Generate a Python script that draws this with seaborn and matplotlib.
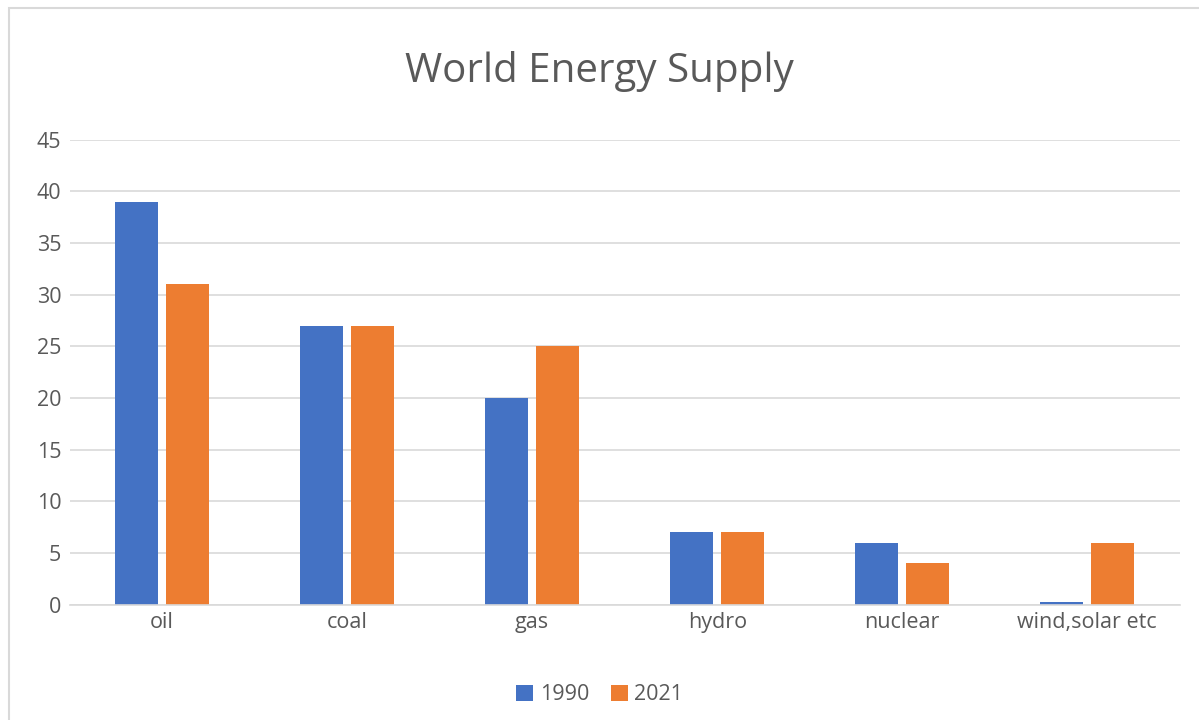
import matplotlib
matplotlib.use("Agg")
import matplotlib.pyplot as plt
import seaborn as sns
import pandas as pd
from matplotlib.patches import Rectangle

categories = ["oil", "coal", "gas", "hydro", "nuclear", "wind,solar etc"]
supply_1990 = [39, 27, 20, 7, 6, 0.25]
supply_2021 = [31, 27, 25, 7, 4, 6]
years = ["1990", "2021"]
y_ticks = [0, 5, 10, 15, 20, 25, 30, 35, 40, 45]


def main():
    df = pd.DataFrame({"source": categories * 2,
                       "year": [years[0]] * len(categories) + [years[1]] * len(categories),
                       "value": supply_1990 + supply_2021})

    sns.set_style("white")
    plt.rcParams['font.family'] = ['Open Sans', 'DejaVu Sans']
    text_col = "#595959"

    fig = plt.figure(figsize=(11.99, 7.2), dpi=100)
    ax = fig.add_axes([0.058, 0.16, 0.926, 0.646])

    sns.barplot(data=df, x="source", y="value", hue="year", ax=ax,
                palette={"1990": "#4472C4", "2021": "#ED7D31"},
                width=0.55, gap=0.16, saturation=1, linewidth=0, legend=True)

    ax.set_ylim(0, 45)
    ax.set_yticks(y_ticks)
    ax.yaxis.grid(True, color="#D9D9D9", linewidth=1.2)
    ax.set_axisbelow(True)
    for s in ["top", "right", "left"]:
        ax.spines[s].set_visible(False)
    ax.spines["bottom"].set_color("#D9D9D9")
    ax.spines["bottom"].set_linewidth(1.2)
    ax.tick_params(axis="both", length=0, labelsize=15.5, labelcolor=text_col)
    ax.tick_params(axis="y", pad=6)
    ax.tick_params(axis="x", pad=5)
    ax.set_xlabel("")
    ax.set_ylabel("")

    fig.text(0.5, 0.9, "World Energy Supply", ha="center", va="center",
             fontsize=29, color=text_col)

    ax.legend(loc="center", bbox_to_anchor=(0.5, 0.035), bbox_transform=fig.transFigure,
              ncol=2, frameon=False, fontsize=15.5, labelcolor=text_col,
              handlelength=0.8, handleheight=0.8, handletextpad=0.3, columnspacing=1.0)

    fig.patches.append(Rectangle((9 / 1199, -0.1), 1.2, 1 - 8 / 720 + 0.1,
                                 transform=fig.transFigure, fill=False,
                                 edgecolor="#D9D9D9", linewidth=1.5))

    fig.savefig("out.png", dpi=100, facecolor="white")


if __name__ == '__main__':
    main()
